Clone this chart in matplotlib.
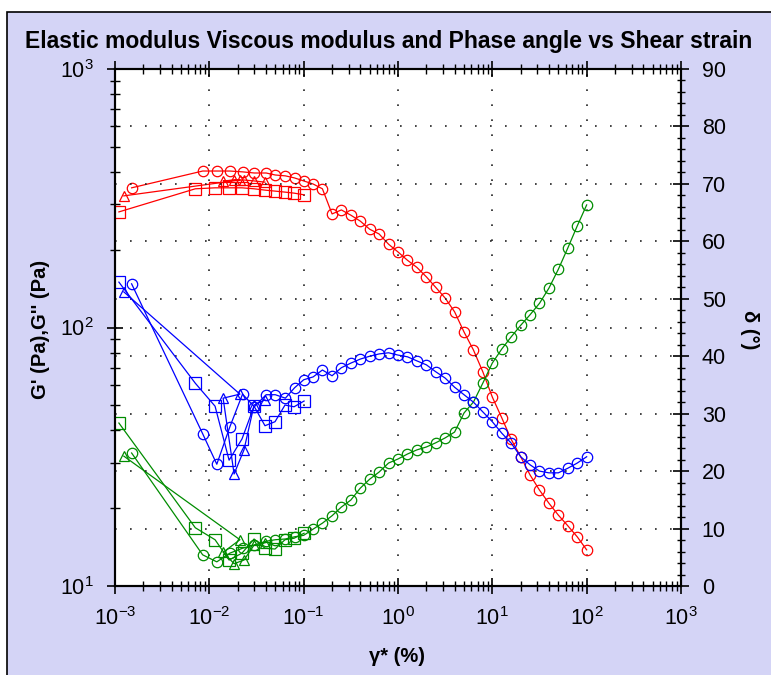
import matplotlib.pyplot as plt
from matplotlib.patches import Rectangle
from matplotlib.ticker import MultipleLocator, LogLocator

plt.rcParams['font.family'] = ['Liberation Sans', 'DejaVu Sans']

# run 1 (circles): full strain sweep
strain_c = [0.0015, 0.0085, 0.012, 0.0165, 0.0225, 0.030, 0.040, 0.050, 0.064, 0.080,
            0.100, 0.126, 0.158, 0.200, 0.251, 0.316, 0.398, 0.501, 0.631, 0.794,
            1.00, 1.26, 1.58, 2.00, 2.51, 3.16, 3.98, 5.01, 6.31, 7.94,
            10.0, 12.6, 15.8, 20.0, 25.1, 31.6, 39.8, 50.1, 63.1, 79.4, 100.0]
gp_c = [347, 403, 403, 403, 400, 396, 396, 389, 386, 379,
        369, 359, 344, 275, 285, 272, 258, 240, 230, 210,
        196, 182, 171, 157, 143, 130, 115, 96.1, 81.8, 67.3,
        53.8, 44.7, 37.0, 31.6, 26.9, 23.5, 20.9, 18.8, 17.1, 15.5, 13.8]
gpp_c = [32.7, 13.2, 12.4, 13.4, 14.0, 14.4, 14.9, 15.1, 15.2, 15.5,
         15.7, 16.6, 17.5, 18.7, 20.2, 21.5, 23.9, 25.9, 27.6, 29.9,
         31.0, 32.4, 33.6, 34.5, 35.8, 37.4, 39.4, 46.7, 51.5, 61.0,
         72.9, 82.6, 91.9, 102, 112, 124, 142, 168, 203, 247, 298]
delta_c = [52.6, 26.5, 21.2, 27.7, 33.4, 31.2, 33.3, 33.3, 32.7, 34.5,
           35.9, 36.4, 37.6, 36.6, 38.0, 38.8, 39.5, 40.0, 40.4, 40.6,
           40.2, 39.9, 39.2, 38.5, 37.3, 36.2, 34.6, 33.3, 32.0, 30.3,
           28.6, 26.6, 24.9, 22.5, 21.1, 20.0, 19.7, 19.7, 20.5, 21.4, 22.5]

# run 2 (squares): low strain only
strain_s = [0.0011, 0.0071, 0.0115, 0.0162, 0.0222, 0.0298, 0.0389, 0.0497, 0.0634, 0.0791, 0.101]
gp_s = [280, 344, 347, 347, 347, 344, 340, 337, 334, 331, 326]
gpp_s = [42.7, 16.8, 15.1, 12.6, 13.4, 15.2, 14.0, 13.9, 15.1, 15.3, 16.0]
delta_s = [52.9, 35.3, 31.3, 21.9, 25.6, 31.3, 27.9, 28.6, 31.5, 31.2, 32.2]

# run 3 (triangles)
strain_t = [0.00124, 0.0211, 0.0140, 0.0183, 0.0233, 0.0298, 0.0389]
gp_t = [323, 372, 369, 372, 372, 369, 365]
gpp_t = [31.8, 15.1, 13.5, 12.2, 12.6, 14.4, 14.7]
delta_t = [51.2, 33.4, 32.7, 19.5, 23.7, 31.5, 32.4]

RED, GREEN, BLUE = '#ff0000', '#008c00', '#0000ff'
panel = '#d4d4f6'

fig = plt.figure(figsize=(7.71, 6.75), dpi=100, facecolor='white')
fig.patches.append(Rectangle((7 / 771, -0.02), 1.0, 1 - 12 / 675 + 0.02,
                             transform=fig.transFigure, facecolor=panel,
                             edgecolor='black', linewidth=1.2, zorder=-10))

ax = fig.add_axes([115 / 771, 89 / 675, 566 / 771, 517 / 675])
ax.set_facecolor('white')
ax2 = ax.twinx()

mk = dict(markerfacecolor='none', linewidth=0.9, markeredgewidth=0.9)
for x, gp, gpp, dl, m, ms in [(strain_c, gp_c, gpp_c, delta_c, 'o', 7.5),
                              (strain_s, gp_s, gpp_s, delta_s, 's', 8),
                              (strain_t, gp_t, gpp_t, delta_t, '^', 7.5)]:
    ax.plot(x, gp, color=RED, marker=m, markersize=ms, markeredgecolor=RED, **mk)
    ax.plot(x, gpp, color=GREEN, marker=m, markersize=ms, markeredgecolor=GREEN, **mk)
    ax2.plot(x, dl, color=BLUE, marker=m, markersize=ms, markeredgecolor=BLUE, **mk)

ax.set_xscale('log')
ax.set_yscale('log')
ax.set_xlim(1e-3, 1e3)
ax.set_ylim(10, 1000)
ax2.set_ylim(0, 90)
ax.xaxis.set_major_locator(LogLocator(base=10, numticks=10))
ax.xaxis.set_minor_locator(LogLocator(base=10, subs=range(2, 10), numticks=20))
ax2.yaxis.set_major_locator(MultipleLocator(10))
ax2.yaxis.set_minor_locator(MultipleLocator(2))

dot = dict(color='#222222', linestyle=(0, (1, 8)), linewidth=1.2)
ax.grid(True, which='major', **dot)
ax2.grid(True, axis='y', which='major', **dot)

for a in (ax, ax2):
    for s in a.spines.values():
        s.set_linewidth(1.5)
ax.tick_params(which='major', direction='inout', length=12, width=1.2, labelsize=15.5,
               top=True, right=False, pad=9)
ax.tick_params(which='minor', direction='inout', length=7, width=1, top=True, right=False)
ax2.tick_params(which='major', direction='inout', length=12, width=1.2, labelsize=15.5, pad=9)
ax2.tick_params(which='minor', direction='inout', length=6, width=1)

fig.text(0.5045, 0.939, 'Elastic modulus Viscous modulus and Phase angle vs Shear strain',
         ha='center', va='center', fontsize=16.5, fontweight='bold')
fig.text(0.052, 0.512, "G' (Pa),G'' (Pa)", rotation=90, ha='center', va='center',
         fontsize=14.5, fontweight='bold')
fig.text(0.972, 0.511, 'δ (°)', rotation=270, ha='center', va='center',
         fontsize=14.5, fontweight='bold')
fig.text(0.515, 0.027, 'γ* (%)', ha='center', va='center', fontsize=14.5, fontweight='bold')

fig.savefig('out.png', dpi=100, facecolor=fig.get_facecolor())
